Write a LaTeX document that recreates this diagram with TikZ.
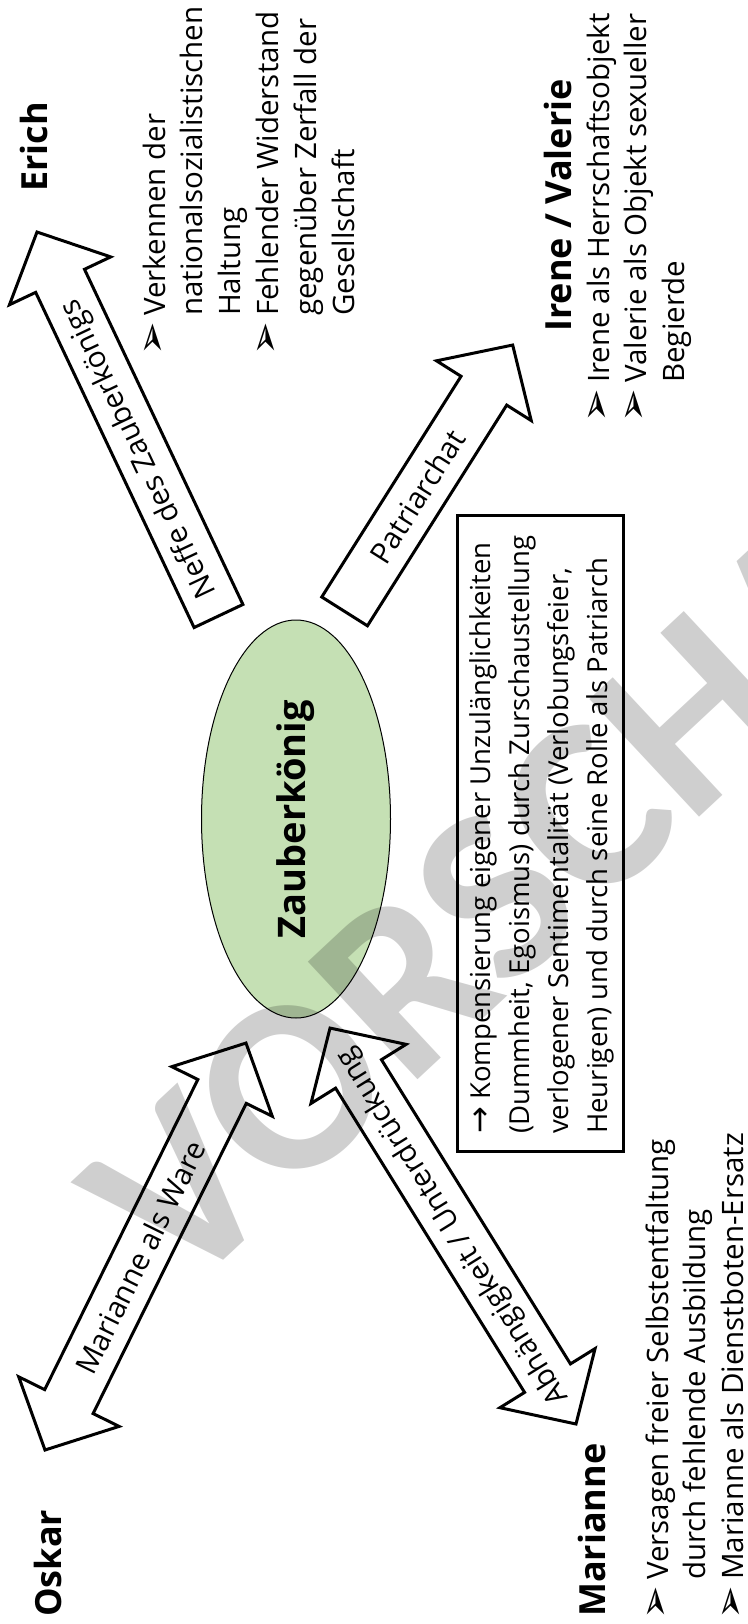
\documentclass[tikz,border=0pt]{standalone}
\usepackage{fontspec}
\setmainfont{Open Sans}
\newfontfamily\dejavu{DejaVu Sans}
\newfontfamily\wmfont{Carlito}
\usetikzlibrary{shapes.geometric}
\definecolor{zkgreen}{HTML}{C5E0B4}

\newcommand\bodyfont{\fontsize{29.5}{37.8}\selectfont}
\newcommand\headfont{\fontsize{36}{40}\selectfont\bfseries}
\newcommand\boxfont{\fontsize{27.5}{39}\selectfont}
\newcommand\bul{\leavevmode\llap{\smash{\fontsize{40}{40}\dejavu ➢}\hspace{6pt}}}

\def\arrHL{54}
\def\arrHH{56}
\def\arrHW{27}

% sx, sy, ex, ey, double(1/0), label, label position, name
\newcommand\blockarrow[8]{%
  \pgfmathsetmacro\bdx{#3-#1}%
  \pgfmathsetmacro\bdy{#4-#2}%
  \pgfmathsetmacro\bang{atan2(-\bdy,\bdx)}%
  \pgfmathsetmacro\blen{veclen(\bdx,\bdy)}%
  \pgfmathsetmacro\bneck{\blen-\arrHL}%
  \begin{scope}[shift={(#1,#2)}, rotate=\bang]
    \ifnum#5=1
      \draw[arrowline] (0,0) -- (\arrHL,-\arrHH) -- (\arrHL,-\arrHW) -- (\bneck,-\arrHW) -- (\bneck,-\arrHH) -- (\blen,0) -- (\bneck,\arrHH) -- (\bneck,\arrHW) -- (\arrHL,\arrHW) -- (\arrHL,\arrHH) -- cycle;
    \else
      \draw[arrowline] (0,-\arrHW) -- (\bneck,-\arrHW) -- (\bneck,-\arrHH) -- (\blen,0) -- (\bneck,\arrHH) -- (\bneck,\arrHW) -- (0,\arrHW) -- cycle;
    \fi
    \node[arrowlabel, rotate=\bang] (#8) at (#7,0) {#6};
  \end{scope}}

\begin{document}
\begin{tikzpicture}[x={(1pt,0)}, y={(0,-1pt)},
  arrowline/.style={draw=black, line width=3pt, line join=miter, fill=white},
  arrowlabel/.style={font=\bodyfont, inner sep=0},
  heading/.style={rotate=90, anchor=base west, inner sep=0, font=\headfont},
  listnode/.style={rotate=90, anchor=base west, inner sep=0}]
\useasboundingbox (0,0) rectangle (747,1624);

% central ellipse
\node[draw, ellipse, rotate=90, fill=zkgreen, line width=1pt, inner sep=0,
      minimum width=398pt, minimum height=189pt,
      font=\fontsize{38}{40}\selectfont\bfseries] (zk) at (296,819) {Zauberkönig};

% arrows
\blockarrow{218.5}{616}{37}{232}{0}{Neffe des Zauberkönigs}{185}{lneffe}
\blockarrow{344.6}{611.4}{512.7}{345}{0}{Patriarchat}{136}{lpatri}
\blockarrow{45}{1450}{246}{1043}{1}{Marianne als Ware}{215}{lware}
\blockarrow{576}{1424}{330}{1028}{1}{Abhängigkeit / Unterdrückung}{233}{labh}

% headings
\node[heading] (erich) at (47,192) {Erich};
\node[heading] (irene) at (571,332) {Irene / Valerie};
\node[heading] (oskar) at (61,1617) {Oskar};
\node[heading] (marianne) at (605,1617) {Marianne};

% bullet lists
\node[listnode] (erichlist) at (165,316) {\parbox[t]{330pt}{\bodyfont\raggedright
  \bul Verkennen der\\
  nationalsozialistischen\\
  Haltung\\
  \bul Fehlender Widerstand\\
  gegenüber Zerfall der\\
  Gesellschaft}};

\node[listnode] (irenelist) at (609,383) {\parbox[t]{380pt}{\bodyfont\raggedright
  \bul Irene als Herrschaftsobjekt\\
  \bul Valerie als Objekt sexueller\\
  Begierde}};

\node[listnode] (mariannelist) at (668,1580) {\parbox[t]{470pt}{\bodyfont\raggedright
  \bul Versagen freier Selbstentfaltung\\
  durch fehlende Ausbildung\\
  \bul Marianne als Dienstboten-Ersatz}};

% text box
\node[draw, line width=2.5pt, inner sep=0, anchor=north west,
      minimum width=166pt, minimum height=636pt] (kbox) at (456,514) {};
\node[listnode] (kboxtext) at (490,1134) {\parbox[t]{620pt}{\boxfont\raggedright
  {\fontsize{32}{32}\dejavu →} Kompensierung eigener Unzulänglichkeiten\\
  (Dummheit, Egoismus) durch Zurschaustellung\\
  verlogener Sentimentalität (Verlobungsfeier,\\
  Heurigen) und durch seine Rolle als Patriarch}};

% watermark
\node[rotate=43, inner sep=0, text=black, text opacity=0.19,
      font=\fontsize{248}{248}\selectfont\wmfont\bfseries] (wm) at (550,846) {VORSCHAU};
\end{tikzpicture}
\end{document}
